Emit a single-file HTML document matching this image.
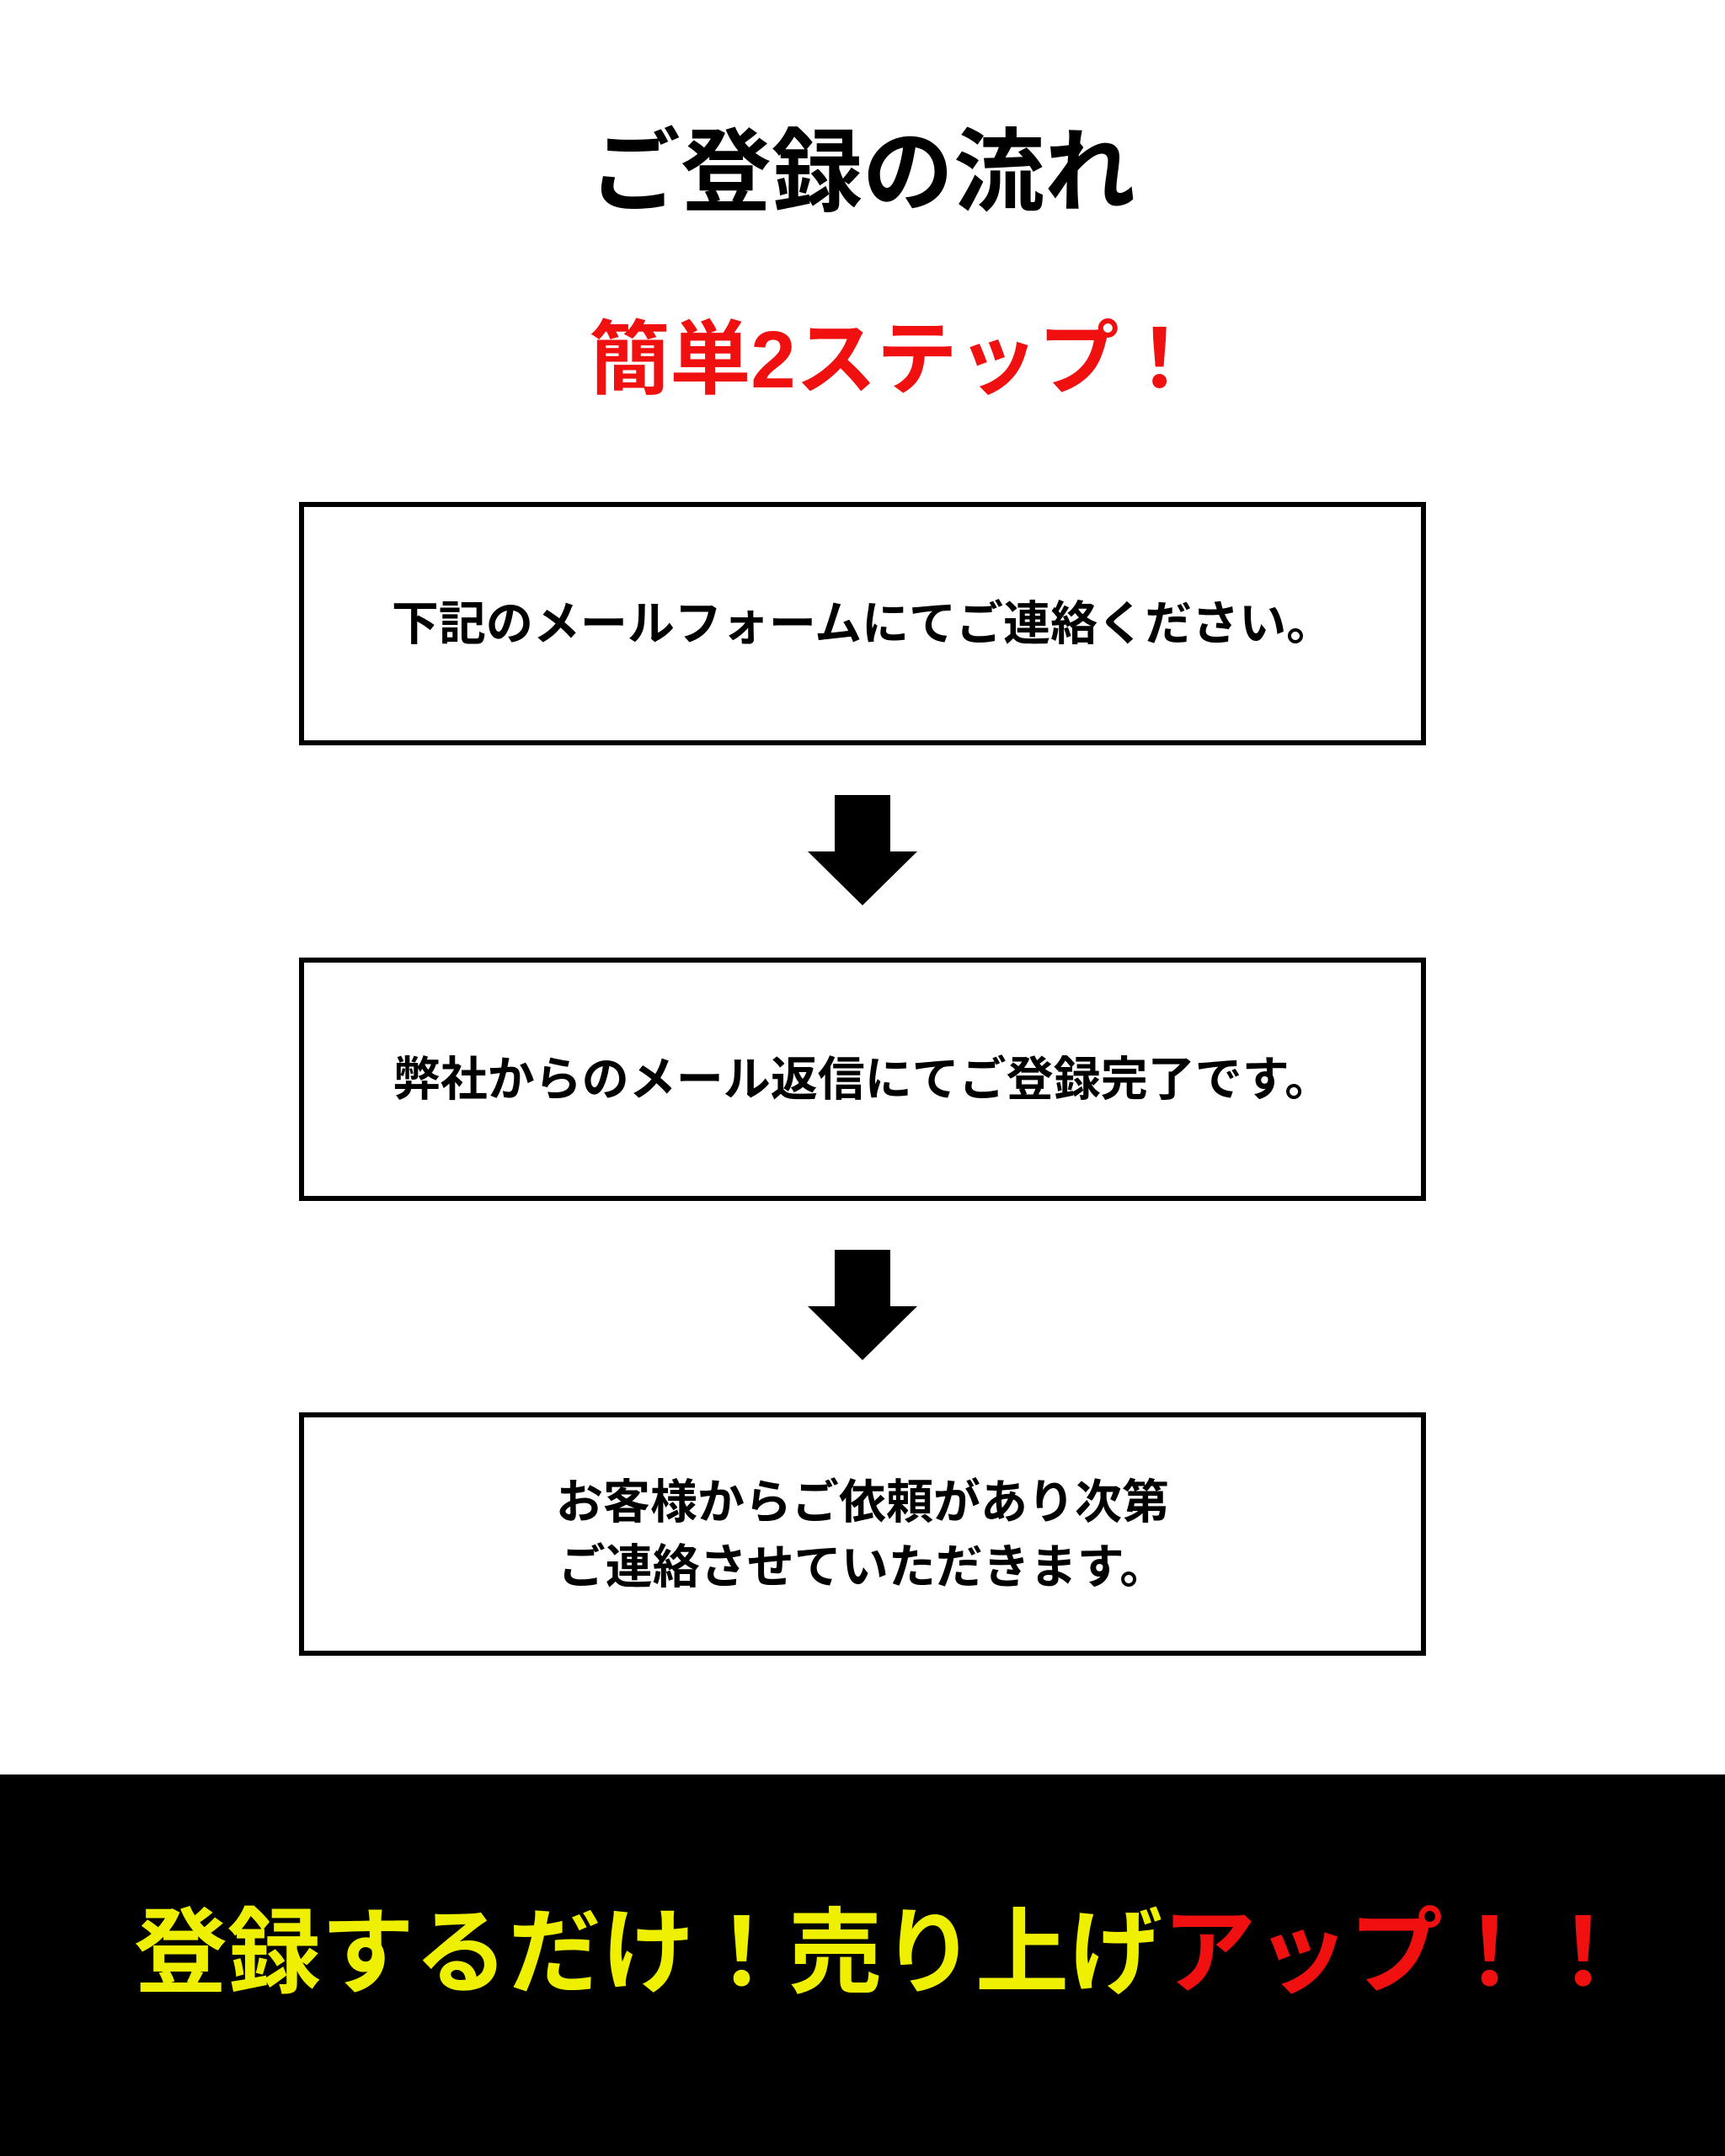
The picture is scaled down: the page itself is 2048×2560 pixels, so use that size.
<!DOCTYPE html>
<html><head><meta charset="utf-8"><style>
html,body{margin:0;padding:0;background:#fff;}
body{width:2048px;height:2560px;position:relative;overflow:hidden;font-family:"Liberation Sans","Noto Sans CJK JP",sans-serif;font-weight:bold;}
.t{position:absolute;left:0;width:2048px;text-align:center;white-space:nowrap;box-sizing:border-box;}
.box{position:absolute;left:355px;width:1326px;height:277px;border:6px solid #000;display:flex;align-items:center;justify-content:center;text-align:center;font-size:56px;line-height:77px;color:#000;}
.band{position:absolute;left:0;top:2107px;width:2048px;height:453px;background:#000;}
</style></head><body>
<div class="t" style="top:140px;font-size:108px;line-height:130px;color:#000;">ご登録の流れ</div>
<div class="t" style="top:370px;font-size:96px;line-height:116px;color:#f01010;padding-left:76px;">簡単2ステップ！</div>
<div class="box" style="top:596px;">下記のメールフォームにてご連絡ください。</div>
<svg style="position:absolute;left:0;top:0" width="2048" height="2560">
<polygon points="991,944 1057,944 1057,1011 1089,1011 1024,1075 959,1011 991,1011" fill="#000"/>
<polygon points="991,1484 1057,1484 1057,1551 1089,1551 1024,1615 959,1551 991,1551" fill="#000"/>
</svg>
<div class="box" style="top:1137px;">弊社からのメール返信にてご登録完了です。</div>
<div class="box" style="top:1677px;">お客様からご依頼があり次第<br>ご連絡させていただきます。</div>
<div class="band"></div>
<div class="t" style="top:2252px;font-size:111px;line-height:134px;color:#eef000;padding-left:46px;">登録するだけ！売り上げ<span style="color:#f01010;">アップ！！</span></div>
</body></html>
